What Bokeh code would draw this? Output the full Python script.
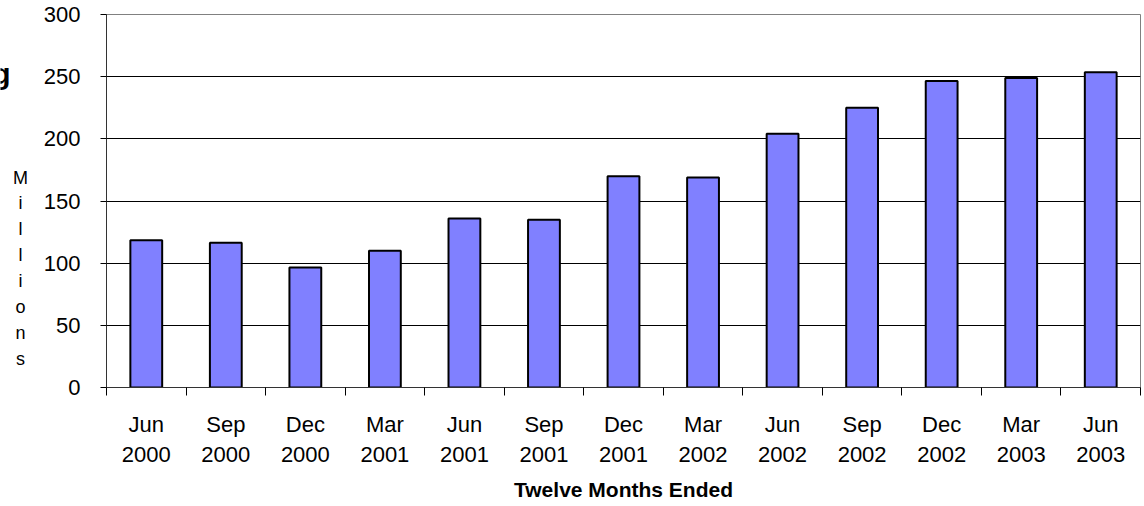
from bokeh.plotting import figure
from bokeh.layouts import row
from bokeh.models import Range1d, FixedTicker, Label
from bokeh.core.properties import value
from bokeh.embed import file_html
from bokeh.resources import INLINE

categories = ["Jun 2000", "Sep 2000", "Dec 2000", "Mar 2001", "Jun 2001", "Sep 2001",
              "Dec 2001", "Mar 2002", "Jun 2002", "Sep 2002", "Dec 2002", "Mar 2003", "Jun 2003"]
values = [118.5, 116.5, 96.5, 110, 136, 135, 170, 169, 204, 225, 246.5, 249, 253.5]
y_ticks = [0, 50, 100, 150, 200, 250, 300]
y_title = "Millions"

n = len(categories)
centers = [i + 0.5 for i in range(n)]
bounds = list(range(n + 1))

FONT = "Liberation Sans"
LEFT_W = 40
FRAME_TOP, FRAME_BOTTOM = 14, 387

# narrow side panel (pixel coordinates; its frame is aligned with the main frame)
side = figure(width=LEFT_W, height=506, output_backend="svg", toolbar_location=None,
              x_range=Range1d(0, LEFT_W), y_range=Range1d(FRAME_BOTTOM, FRAME_TOP),
              x_axis_type=None, y_axis_type=None, min_border=0,
              min_border_top=FRAME_TOP, min_border_bottom=506 - FRAME_BOTTOM)
side.outline_line_color = None
side.grid.grid_line_color = None
letters = list(y_title)
TITLE_TOP, PITCH = 177, 25.9
side.text(x=[20] * len(letters), y=[TITLE_TOP + i * PITCH for i in range(len(letters))],
          text=letters, text_align="center", text_baseline="middle",
          text_font=value(FONT), text_font_size="18px", text_color="black")
side.add_layout(Label(x=10, y=73, text="g", text_align="right",
                      text_baseline="alphabetic", text_font=FONT, text_font_size="30px",
                      text_font_style="bold", text_color="black"))

p = figure(width=1144 - LEFT_W, height=506, output_backend="svg", toolbar_location=None,
           x_range=Range1d(0, n), y_range=Range1d(0, 300),
           min_border_left=106 - LEFT_W, min_border_right=4, min_border_top=FRAME_TOP,
           min_border_bottom=506 - FRAME_BOTTOM)

p.vbar(x=centers, top=values, width=0.4, fill_color="#8080FF", line_color="black", line_width=2)

p.outline_line_color = "#808080"
p.outline_line_width = 1

# y axis
p.yaxis.ticker = FixedTicker(ticks=y_ticks)
p.yaxis.minor_tick_line_color = None
p.yaxis.major_tick_out = 6
p.yaxis.major_tick_in = 0
p.yaxis.major_tick_line_color = "black"
p.yaxis.axis_line_color = "#333333"
p.yaxis.major_label_standoff = 20
p.yaxis.major_label_text_font = FONT
p.yaxis.major_label_text_font_size = "22px"
p.yaxis.major_label_text_color = "black"

p.ygrid.ticker = FixedTicker(ticks=y_ticks[1:-1])
p.ygrid.grid_line_color = "black"
p.ygrid.grid_line_width = 1
p.xgrid.grid_line_color = None

# x axis: labels at centers, tick marks between categories
p.xaxis.ticker = FixedTicker(ticks=centers, minor_ticks=bounds)
p.xaxis.major_label_overrides = {c: cat.replace(" ", "\n") for c, cat in zip(centers, categories)}
p.xaxis.major_tick_line_color = None
p.xaxis.minor_tick_out = 8
p.xaxis.minor_tick_in = 0
p.xaxis.minor_tick_line_color = "black"
p.xaxis.axis_line_color = "#333333"
p.xaxis.major_label_standoff = 16
p.xaxis.major_label_text_font = FONT
p.xaxis.major_label_text_font_size = "22px"
p.xaxis.major_label_text_line_height = 1.22
p.xaxis.major_label_text_color = "black"
p.xaxis.axis_label = "Twelve Months Ended"
p.xaxis.axis_label_text_font = FONT
p.xaxis.axis_label_text_font_size = "21px"
p.xaxis.axis_label_text_font_style = "bold"
p.xaxis.axis_label_text_color = "black"
p.xaxis.axis_label_standoff = 8

layout = row(side, p, spacing=0)
open("out.html", "w").write(file_html(layout, INLINE))
